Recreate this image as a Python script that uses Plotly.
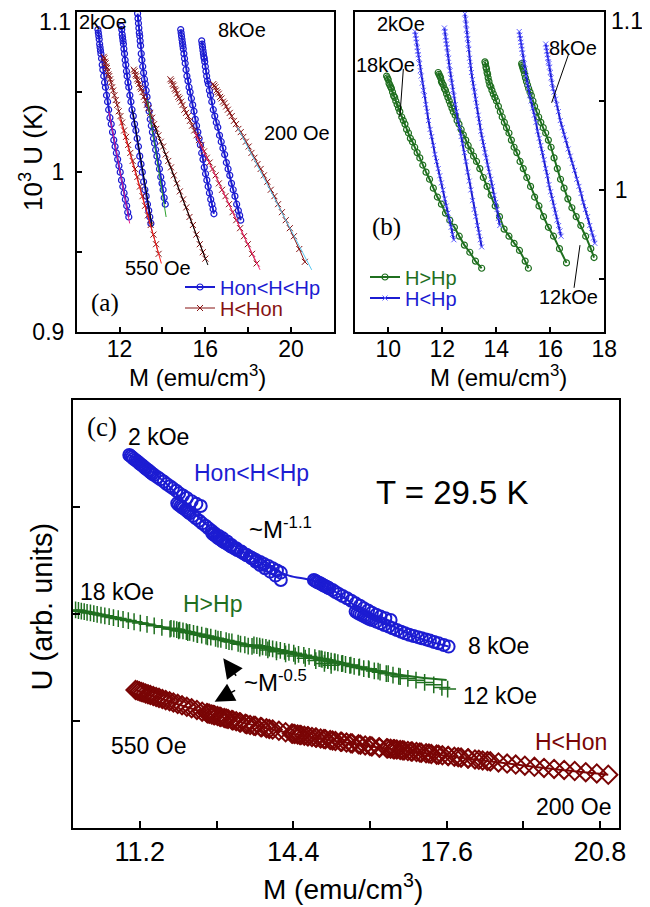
import plotly.graph_objects as go

# ---------------- DATA ----------------
# Panel (a)/(b): Hon<H<Hp (same curves appear in a as circles, in b as H<Hp crosses)
hon1_M = [10.99, 11.01, 11.03, 11.05, 11.07, 11.09, 11.11, 11.13, 11.16, 11.19, 11.22, 11.26, 11.30, 11.34, 11.39, 11.44, 11.49, 11.55, 11.61, 11.67, 11.73, 11.79, 11.85, 11.91, 11.97, 12.03, 12.09, 12.15, 12.21, 12.27, 12.33, 12.38, 12.43]
hon1_U = [1.089, 1.087, 1.085, 1.083, 1.080, 1.078, 1.076, 1.074, 1.071, 1.067, 1.064, 1.060, 1.056, 1.053, 1.048, 1.044, 1.039, 1.034, 1.030, 1.025, 1.020, 1.016, 1.012, 1.008, 1.004, 1.000, 0.995, 0.991, 0.987, 0.983, 0.979, 0.975, 0.972]
hon2_M = [12.08, 12.10, 12.12, 12.14, 12.16, 12.18, 12.20, 12.23, 12.26, 12.29, 12.32, 12.35, 12.39, 12.43, 12.48, 12.53, 12.58, 12.64, 12.70, 12.76, 12.82, 12.88, 12.94, 13.00, 13.06, 13.12, 13.18, 13.24, 13.30, 13.36, 13.41, 13.46]
hon2_U = [1.091, 1.089, 1.086, 1.084, 1.082, 1.080, 1.077, 1.074, 1.070, 1.067, 1.063, 1.060, 1.056, 1.053, 1.048, 1.044, 1.039, 1.035, 1.030, 1.026, 1.021, 1.016, 1.010, 1.005, 1.000, 0.994, 0.989, 0.985, 0.980, 0.976, 0.972, 0.968]
hon3_M = [12.84, 12.86, 12.88, 12.90, 12.92, 12.94, 12.96, 12.98, 13.01, 13.04, 13.08, 13.12, 13.16, 13.20, 13.24, 13.28, 13.33, 13.38, 13.43, 13.48, 13.53, 13.58, 13.63, 13.68, 13.74, 13.80, 13.86, 13.92, 13.98, 14.03, 14.08, 14.13]
hon3_U = [1.099, 1.096, 1.093, 1.090, 1.087, 1.085, 1.082, 1.079, 1.074, 1.070, 1.066, 1.062, 1.058, 1.055, 1.051, 1.047, 1.042, 1.038, 1.033, 1.029, 1.025, 1.021, 1.018, 1.014, 1.010, 1.006, 1.002, 0.997, 0.993, 0.989, 0.984, 0.980]
hon4_M = [14.85, 14.87, 14.89, 14.91, 14.93, 14.95, 14.97, 15.00, 15.03, 15.06, 15.10, 15.14, 15.19, 15.24, 15.29, 15.35, 15.41, 15.47, 15.53, 15.59, 15.65, 15.71, 15.77, 15.83, 15.89, 15.95, 16.01, 16.07, 16.13, 16.19, 16.25, 16.31, 16.36, 16.40]
hon4_U = [1.089, 1.087, 1.085, 1.083, 1.081, 1.079, 1.077, 1.074, 1.071, 1.068, 1.064, 1.060, 1.057, 1.053, 1.050, 1.046, 1.042, 1.038, 1.033, 1.029, 1.025, 1.021, 1.017, 1.012, 1.008, 1.003, 0.999, 0.995, 0.991, 0.987, 0.983, 0.980, 0.977, 0.974]
hon5_M = [15.83, 15.85, 15.87, 15.89, 15.91, 15.93, 15.95, 15.97, 16.00, 16.03, 16.06, 16.10, 16.14, 16.19, 16.24, 16.30, 16.37, 16.44, 16.51, 16.58, 16.66, 16.74, 16.82, 16.90, 16.98, 17.06, 17.14, 17.22, 17.30, 17.38, 17.46, 17.54, 17.60, 17.65]
hon5_U = [1.082, 1.080, 1.078, 1.076, 1.074, 1.072, 1.071, 1.069, 1.066, 1.063, 1.060, 1.057, 1.055, 1.051, 1.048, 1.044, 1.039, 1.035, 1.031, 1.028, 1.023, 1.019, 1.015, 1.011, 1.006, 1.002, 0.998, 0.993, 0.989, 0.985, 0.980, 0.976, 0.973, 0.970]

# Panel (a): H<Hon
low1_M = [11.26, 11.29, 11.32, 11.35, 11.38, 11.41, 11.44, 11.48, 11.52, 11.56, 11.60, 11.65, 11.70, 11.76, 11.82, 11.89, 11.96, 12.04, 12.12, 12.21, 12.30, 12.40, 12.50, 12.61, 12.72, 12.83, 12.95, 13.07, 13.19, 13.32, 13.45, 13.58, 13.70, 13.82]
low1_U = [1.072, 1.071, 1.069, 1.068, 1.066, 1.065, 1.063, 1.061, 1.060, 1.058, 1.056, 1.053, 1.051, 1.048, 1.045, 1.042, 1.038, 1.035, 1.031, 1.026, 1.022, 1.017, 1.012, 1.007, 1.002, 0.997, 0.991, 0.985, 0.979, 0.973, 0.967, 0.961, 0.955, 0.949]
low2_M = [12.66, 12.70, 12.74, 12.78, 12.82, 12.86, 12.91, 12.96, 13.01, 13.07, 13.13, 13.20, 13.27, 13.35, 13.43, 13.52, 13.61, 13.71, 13.81, 13.92, 14.03, 14.15, 14.27, 14.40, 14.53, 14.67, 14.81, 14.96, 15.11, 15.26, 15.42, 15.58, 15.74, 15.88, 16.00]
low2_U = [1.064, 1.063, 1.061, 1.060, 1.058, 1.057, 1.055, 1.053, 1.052, 1.050, 1.047, 1.045, 1.042, 1.040, 1.037, 1.034, 1.030, 1.027, 1.023, 1.019, 1.016, 1.011, 1.007, 1.003, 0.998, 0.993, 0.988, 0.983, 0.978, 0.972, 0.967, 0.961, 0.955, 0.950, 0.946]
low3_M = [14.37, 14.42, 14.47, 14.52, 14.57, 14.62, 14.68, 14.74, 14.80, 14.87, 14.94, 15.02, 15.10, 15.19, 15.28, 15.38, 15.48, 15.59, 15.70, 15.82, 15.94, 16.07, 16.20, 16.34, 16.48, 16.63, 16.78, 16.94, 17.10, 17.27, 17.44, 17.62, 17.80, 17.98, 18.18, 18.39]
low3_U = [1.058, 1.057, 1.055, 1.054, 1.052, 1.051, 1.049, 1.047, 1.046, 1.044, 1.042, 1.039, 1.037, 1.035, 1.032, 1.029, 1.026, 1.023, 1.020, 1.017, 1.013, 1.009, 1.006, 1.002, 0.998, 0.993, 0.989, 0.985, 0.980, 0.975, 0.970, 0.965, 0.960, 0.955, 0.949, 0.943]
low4_M = [16.37, 16.42, 16.47, 16.52, 16.57, 16.63, 16.69, 16.75, 16.82, 16.89, 16.97, 17.05, 17.14, 17.23, 17.33, 17.43, 17.54, 17.65, 17.77, 17.89, 18.02, 18.15, 18.29, 18.43, 18.58, 18.73, 18.89, 19.05, 19.22, 19.39, 19.57, 19.75, 19.94, 20.13, 20.38, 20.64]
low4_U = [1.055, 1.054, 1.053, 1.051, 1.050, 1.049, 1.047, 1.046, 1.044, 1.043, 1.041, 1.039, 1.037, 1.035, 1.032, 1.030, 1.027, 1.025, 1.022, 1.019, 1.016, 1.012, 1.009, 1.005, 1.002, 0.998, 0.994, 0.989, 0.985, 0.980, 0.975, 0.970, 0.965, 0.960, 0.952, 0.944]

# Panel (a): thin fit lines (start/end)
fitA_M = [[11.50, 12.47], [12.60, 13.52], [13.30, 14.17], [12.00, 13.95], [13.60, 16.12], [15.50, 18.55], [17.50, 20.96]]
fitA_U = [[1.038, 0.968], [1.039, 0.966], [1.045, 0.972], [1.034, 0.943], [1.030, 0.942], [1.025, 0.939], [1.028, 0.939]]
fitA_colors = ["#e8208c", "#000000", "#2ca02c", "#ff2020", "#000000", "#ff2a7a", "#5bc8f0"]

# Panel (b): H>Hp
hp1_M = [9.94, 9.97, 10.00, 10.03, 10.06, 10.09, 10.12, 10.16, 10.20, 10.24, 10.28, 10.33, 10.38, 10.43, 10.50, 10.56, 10.62, 10.68, 10.75, 10.82, 10.90, 10.98, 11.07, 11.17, 11.28, 11.40, 11.53, 11.67, 11.82, 11.97, 12.12, 12.28, 12.45, 12.63, 12.82, 13.02, 13.23, 13.46]
hp1_U = [1.064, 1.063, 1.062, 1.060, 1.059, 1.058, 1.057, 1.055, 1.053, 1.052, 1.050, 1.048, 1.046, 1.044, 1.041, 1.039, 1.037, 1.034, 1.032, 1.029, 1.027, 1.024, 1.021, 1.018, 1.014, 1.010, 1.006, 1.001, 0.996, 0.992, 0.987, 0.983, 0.979, 0.974, 0.969, 0.965, 0.960, 0.956]
hp2_M = [11.85, 11.88, 11.91, 11.94, 11.97, 12.00, 12.04, 12.08, 12.12, 12.16, 12.21, 12.26, 12.31, 12.36, 12.41, 12.48, 12.55, 12.62, 12.70, 12.78, 12.87, 12.96, 13.06, 13.16, 13.27, 13.39, 13.52, 13.66, 13.81, 13.96, 14.12, 14.29, 14.47, 14.66, 14.86, 15.07, 15.19]
hp2_U = [1.066, 1.065, 1.064, 1.063, 1.061, 1.060, 1.059, 1.057, 1.056, 1.054, 1.052, 1.050, 1.048, 1.046, 1.044, 1.042, 1.039, 1.037, 1.034, 1.031, 1.028, 1.025, 1.022, 1.019, 1.016, 1.012, 1.007, 1.002, 0.997, 0.991, 0.985, 0.978, 0.974, 0.970, 0.966, 0.960, 0.956]
hp3_M = [13.58, 13.60, 13.62, 13.64, 13.66, 13.68, 13.70, 13.73, 13.76, 13.80, 13.84, 13.89, 13.95, 14.01, 14.08, 14.15, 14.22, 14.30, 14.38, 14.47, 14.56, 14.66, 14.76, 14.88, 15.00, 15.13, 15.27, 15.42, 15.58, 15.75, 15.93, 16.12, 16.34, 16.60]
hp3_U = [1.072, 1.071, 1.069, 1.068, 1.066, 1.065, 1.063, 1.061, 1.059, 1.058, 1.056, 1.054, 1.052, 1.050, 1.047, 1.044, 1.041, 1.038, 1.035, 1.032, 1.028, 1.024, 1.021, 1.016, 1.012, 1.007, 1.002, 0.996, 0.991, 0.985, 0.979, 0.974, 0.967, 0.959]
hp4_M = [14.94, 14.96, 14.98, 15.00, 15.02, 15.05, 15.08, 15.12, 15.16, 15.20, 15.25, 15.30, 15.36, 15.42, 15.49, 15.57, 15.65, 15.74, 15.83, 15.93, 16.03, 16.14, 16.26, 16.38, 16.51, 16.65, 16.80, 16.96, 17.13, 17.31, 17.50, 17.62]
hp4_U = [1.071, 1.070, 1.069, 1.068, 1.067, 1.065, 1.063, 1.061, 1.059, 1.057, 1.055, 1.053, 1.050, 1.047, 1.044, 1.041, 1.038, 1.035, 1.032, 1.028, 1.024, 1.018, 1.012, 1.006, 1.001, 0.995, 0.990, 0.985, 0.980, 0.974, 0.967, 0.962]

# Panel (c): scaled U (arb. units)
cb1_M = [10.98, 11.01, 11.04, 11.07, 11.11, 11.14, 11.17, 11.20, 11.24, 11.27, 11.30, 11.33, 11.37, 11.40, 11.43, 11.46, 11.50, 11.57, 11.63, 11.70, 11.76, 11.83, 11.89, 11.96, 12.02, 12.10, 12.18, 12.28, 12.38, 12.47]
cb1_U = [3.486, 3.476, 3.465, 3.452, 3.440, 3.429, 3.418, 3.405, 3.393, 3.382, 3.370, 3.358, 3.346, 3.335, 3.323, 3.311, 3.300, 3.278, 3.259, 3.238, 3.216, 3.195, 3.175, 3.152, 3.129, 3.108, 3.085, 3.055, 3.030, 3.010]
cb2_M = [11.98, 12.01, 12.05, 12.08, 12.11, 12.15, 12.18, 12.21, 12.24, 12.31, 12.37, 12.44, 12.50, 12.57, 12.63, 12.70, 12.76, 12.85, 12.93, 13.02, 13.11, 13.21, 13.32, 13.42, 13.53, 13.62, 13.71, 13.81, 13.92, 14.03, 14.14]
cb2_U = [3.035, 3.022, 3.010, 2.999, 2.988, 2.976, 2.965, 2.953, 2.942, 2.918, 2.895, 2.872, 2.848, 2.825, 2.802, 2.778, 2.755, 2.730, 2.708, 2.678, 2.646, 2.615, 2.584, 2.553, 2.522, 2.490, 2.459, 2.428, 2.397, 2.360, 2.319]
cb3_M = [12.71, 12.74, 12.78, 12.81, 12.84, 12.88, 12.91, 12.94, 12.97, 13.04, 13.10, 13.17, 13.23, 13.30, 13.36, 13.43, 13.49, 13.56, 13.62, 13.71, 13.79, 13.88, 13.97, 14.06, 14.14]
cb3_U = [2.755, 2.743, 2.731, 2.720, 2.708, 2.698, 2.688, 2.678, 2.668, 2.650, 2.631, 2.615, 2.599, 2.584, 2.568, 2.552, 2.537, 2.521, 2.506, 2.488, 2.469, 2.449, 2.428, 2.408, 2.388]
cb4_M = [14.83, 14.86, 14.89, 14.92, 14.96, 14.99, 15.02, 15.05, 15.09, 15.12, 15.15, 15.22, 15.28, 15.35, 15.43, 15.52, 15.61, 15.70, 15.79, 15.87, 15.96, 16.04, 16.13, 16.22, 16.32, 16.43]
cb4_U = [2.319, 2.311, 2.303, 2.296, 2.288, 2.280, 2.272, 2.265, 2.257, 2.249, 2.241, 2.226, 2.207, 2.189, 2.169, 2.148, 2.125, 2.101, 2.078, 2.055, 2.034, 2.014, 1.995, 1.977, 1.962, 1.946]
cb5_M = [15.70, 15.74, 15.78, 15.82, 15.87, 15.91, 15.95, 15.99, 16.04, 16.13, 16.22, 16.30, 16.39, 16.47, 16.56, 16.65, 16.73, 16.82, 16.91, 17.00, 17.08, 17.17, 17.25, 17.34, 17.43, 17.54, 17.64]
cb5_U = [2.024, 2.013, 2.003, 1.993, 1.983, 1.973, 1.964, 1.955, 1.946, 1.930, 1.915, 1.899, 1.884, 1.868, 1.852, 1.836, 1.821, 1.808, 1.796, 1.785, 1.775, 1.764, 1.753, 1.740, 1.728, 1.712, 1.697]
cb_fit_M = [10.98, 11.76, 12.50, 13.20, 13.80, 14.31, 14.83, 15.35, 15.87, 16.39, 16.91, 17.64]
cb_fit_U = [3.486, 3.216, 2.870, 2.630, 2.460, 2.360, 2.310, 2.190, 2.020, 1.910, 1.795, 1.697]

cg1_M = [9.86, 9.92, 9.98, 10.04, 10.10, 10.17, 10.24, 10.31, 10.39, 10.47, 10.56, 10.65, 10.75, 10.85, 10.96, 11.08, 11.21, 11.35, 11.50, 11.66, 11.83, 12.01, 12.20, 12.40, 12.61, 12.83, 13.06, 13.30, 13.46]
cg1_U = [2.039, 2.034, 2.028, 2.023, 2.017, 2.011, 2.005, 1.998, 1.991, 1.984, 1.976, 1.968, 1.959, 1.950, 1.940, 1.929, 1.917, 1.905, 1.891, 1.877, 1.861, 1.845, 1.828, 1.810, 1.789, 1.767, 1.744, 1.720, 1.702]
cg2_M = [11.85, 11.91, 11.97, 12.03, 12.10, 12.17, 12.24, 12.32, 12.40, 12.49, 12.58, 12.68, 12.78, 12.89, 13.00, 13.12, 13.25, 13.39, 13.54, 13.70, 13.87, 14.05, 14.24, 14.44, 14.65, 14.87, 15.05, 15.19]
cg2_U = [1.868, 1.862, 1.856, 1.850, 1.843, 1.836, 1.829, 1.821, 1.813, 1.804, 1.795, 1.785, 1.775, 1.764, 1.753, 1.741, 1.728, 1.714, 1.699, 1.683, 1.666, 1.648, 1.629, 1.609, 1.588, 1.566, 1.540, 1.522]
cg3_M = [13.58, 13.64, 13.70, 13.76, 13.83, 13.90, 13.97, 14.05, 14.13, 14.22, 14.31, 14.41, 14.51, 14.62, 14.73, 14.85, 14.98, 15.12, 15.27, 15.43, 15.60, 15.78, 15.97, 16.17, 16.38, 16.60]
cg3_U = [1.712, 1.706, 1.701, 1.695, 1.689, 1.682, 1.676, 1.668, 1.661, 1.652, 1.644, 1.635, 1.625, 1.615, 1.605, 1.594, 1.582, 1.569, 1.555, 1.540, 1.524, 1.507, 1.490, 1.468, 1.445, 1.420]
cg4_M = [14.94, 15.00, 15.06, 15.12, 15.19, 15.26, 15.33, 15.41, 15.49, 15.58, 15.67, 15.77, 15.87, 15.98, 16.09, 16.21, 16.34, 16.48, 16.63, 16.79, 16.96, 17.14, 17.33, 17.50, 17.62]
cg4_U = [1.585, 1.579, 1.573, 1.567, 1.560, 1.553, 1.546, 1.538, 1.530, 1.521, 1.512, 1.502, 1.492, 1.481, 1.470, 1.458, 1.445, 1.431, 1.416, 1.400, 1.383, 1.362, 1.340, 1.316, 1.300]
cg_fit_M = [9.86, 11.0, 12.0, 13.0, 14.0, 15.0, 16.0, 17.0, 17.6]
cg_fit_U = [2.040, 1.940, 1.850, 1.760, 1.660, 1.575, 1.480, 1.410, 1.386]

cr1_M = [11.11, 11.15, 11.19, 11.23, 11.27, 11.32, 11.37, 11.42, 11.48, 11.54, 11.60, 11.67, 11.74, 11.82, 11.90, 11.99, 12.08, 12.18, 12.28, 12.39, 12.50, 12.62, 12.74, 12.87, 13.00, 13.14, 13.28, 13.43, 13.58, 13.74, 13.90]
cr1_U = [1.292, 1.286, 1.280, 1.274, 1.268, 1.260, 1.253, 1.245, 1.236, 1.227, 1.218, 1.208, 1.197, 1.186, 1.175, 1.162, 1.149, 1.135, 1.121, 1.105, 1.089, 1.073, 1.058, 1.042, 1.026, 1.008, 0.991, 0.972, 0.958, 0.943, 0.928]
cr2_M = [12.60, 12.65, 12.70, 12.76, 12.82, 12.89, 12.96, 13.04, 13.12, 13.21, 13.30, 13.40, 13.50, 13.61, 13.72, 13.84, 13.97, 14.10, 14.24, 14.39, 14.54, 14.70, 14.87, 15.04, 15.22, 15.41, 15.60, 15.80, 16.00, 16.20]
cr2_U = [1.076, 1.069, 1.063, 1.056, 1.048, 1.040, 1.031, 1.021, 1.011, 1.000, 0.989, 0.977, 0.965, 0.955, 0.945, 0.934, 0.922, 0.910, 0.897, 0.884, 0.872, 0.860, 0.847, 0.834, 0.820, 0.808, 0.795, 0.781, 0.768, 0.752]
cr3_M = [14.37, 14.43, 14.49, 14.56, 14.63, 14.71, 14.79, 14.88, 14.97, 15.07, 15.17, 15.28, 15.39, 15.51, 15.63, 15.76, 15.90, 16.04, 16.19, 16.35, 16.51, 16.68, 16.86, 17.04, 17.23, 17.43, 17.63, 17.84, 18.05, 18.27, 18.45]
cr3_U = [0.885, 0.881, 0.876, 0.871, 0.865, 0.859, 0.853, 0.846, 0.839, 0.831, 0.824, 0.816, 0.809, 0.801, 0.793, 0.784, 0.774, 0.765, 0.756, 0.747, 0.738, 0.728, 0.718, 0.708, 0.698, 0.687, 0.676, 0.664, 0.653, 0.640, 0.628]
cr4_M = [16.37, 16.43, 16.49, 16.56, 16.63, 16.71, 16.79, 16.88, 16.97, 17.07, 17.17, 17.28, 17.39, 17.51, 17.63, 17.76, 17.90, 18.04, 18.19, 18.35, 18.51, 18.68, 18.86, 19.04, 19.23, 19.43, 19.63, 19.84, 20.05, 20.27, 20.50, 20.73, 20.97]
cr4_U = [0.746, 0.743, 0.739, 0.735, 0.731, 0.727, 0.722, 0.717, 0.712, 0.706, 0.700, 0.694, 0.688, 0.682, 0.675, 0.668, 0.660, 0.652, 0.643, 0.634, 0.625, 0.615, 0.605, 0.595, 0.585, 0.574, 0.564, 0.554, 0.545, 0.535, 0.524, 0.512, 0.500]
cr_fit_M = [11.11, 12.58, 14.31, 16.04, 17.77, 19.50, 20.97]
cr_fit_U = [1.292, 1.078, 0.890, 0.765, 0.667, 0.570, 0.500]

# Tick values / labels
xa_ticks = [12, 16, 20]
xa_minor = [14, 18]
ya_ticks = [0.9, 1.0]
ya_text = ["0.9", "1"]
ya_minor = [0.95, 1.05]
ya_top_label = "1.1"
xb_ticks = [10, 12, 14, 16, 18]
yb_ticks = [1.0]
yb_text = ["1"]
yb_minor = [0.95, 1.05]
yb_top_label = "1.1"
xc_ticks = [11.2, 14.4, 17.6, 20.8]
xc_text = ["11.2", "14.4", "17.6", "20.8"]
xc_minor = [12.8, 16.0, 19.2]
yc_ticks = [1, 2, 3]

hon_M = [hon1_M, hon2_M, hon3_M, hon4_M, hon5_M]
hon_U = [hon1_U, hon2_U, hon3_U, hon4_U, hon5_U]
low_M = [low1_M, low2_M, low3_M, low4_M]
low_U = [low1_U, low2_U, low3_U, low4_U]
hp_M = [hp1_M, hp2_M, hp3_M, hp4_M]
hp_U = [hp1_U, hp2_U, hp3_U, hp4_U]
cb_M = [cb1_M, cb2_M, cb3_M, cb4_M, cb5_M]
cb_U = [cb1_U, cb2_U, cb3_U, cb4_U, cb5_U]
cg_M = [cg1_M, cg2_M, cg3_M, cg4_M]
cg_U = [cg1_U, cg2_U, cg3_U, cg4_U]
cr_M = [cr1_M, cr2_M, cr3_M, cr4_M]
cr_U = [cr1_U, cr2_U, cr3_U, cr4_U]

# ---------------- STYLE ----------------
FONT = "Liberation Sans, Arial, Helvetica, sans-serif"
SERIF = "Liberation Serif, Times New Roman, serif"
BLUE = "#1c1cd2"
DRED = "#861212"
CRED = "#7a0505"
GREEN = "#1f6f1f"
# the page body has an 8px margin; the figure starts at (8, 8) in the window
OFF = 8
W, H = 642, 899

fig = go.Figure()

# Panel (a)
for i, (m, u) in enumerate(zip(hon_M, hon_U)):
    fig.add_trace(go.Scatter(x=m, y=u, xaxis="x", yaxis="y", mode="lines+markers",
                             name="Hon&lt;H&lt;Hp", legend="legend", showlegend=(i == 0),
                             line=dict(color=BLUE, width=2),
                             marker=dict(symbol="circle-open", size=6, color=BLUE,
                                         line=dict(color=BLUE, width=1.2))))
for i, (m, u) in enumerate(zip(low_M, low_U)):
    fig.add_trace(go.Scatter(x=m, y=u, xaxis="x", yaxis="y", mode="lines+markers",
                             name="H&lt;Hon", legend="legend2", showlegend=(i == 0),
                             line=dict(color=DRED, width=1),
                             marker=dict(symbol="x-thin-open", size=6, color=DRED,
                                         line=dict(color=DRED, width=1))))
for m, u, c in zip(fitA_M, fitA_U, fitA_colors):
    fig.add_trace(go.Scatter(x=m, y=u, xaxis="x", yaxis="y", mode="lines",
                             line=dict(color=c, width=1), showlegend=False, hoverinfo="skip"))

# Panel (b)
for i, (m, u) in enumerate(zip(hp_M, hp_U)):
    fig.add_trace(go.Scatter(x=m, y=u, xaxis="x2", yaxis="y2", mode="lines+markers",
                             name="H>Hp", legend="legend3", showlegend=(i == 0),
                             line=dict(color=GREEN, width=2),
                             marker=dict(symbol="circle-open", size=6, color=GREEN,
                                         line=dict(color=GREEN, width=1.2))))
for i, (m, u) in enumerate(zip(hon_M, hon_U)):
    fig.add_trace(go.Scatter(x=m, y=u, xaxis="x2", yaxis="y2", mode="lines+markers",
                             name="H&lt;Hp", legend="legend4", showlegend=(i == 0),
                             line=dict(color=BLUE, width=2),
                             marker=dict(symbol="x-thin-open", size=5, color="#5a5aff",
                                         line=dict(color="#5a5aff", width=1))))

# Panel (c)
for m, u in zip(cb_M, cb_U):
    fig.add_trace(go.Scatter(x=m, y=u, xaxis="x3", yaxis="y3", mode="markers", showlegend=False,
                             marker=dict(symbol="circle-open", size=12, color=BLUE,
                                         line=dict(color=BLUE, width=2))))
fig.add_trace(go.Scatter(x=cb_fit_M, y=cb_fit_U, xaxis="x3", yaxis="y3", mode="lines",
                         line=dict(color=BLUE, width=2, shape="spline"), showlegend=False))
for m, u in zip(cg_M, cg_U):
    fig.add_trace(go.Scatter(x=m, y=u, xaxis="x3", yaxis="y3", mode="markers", showlegend=False,
                             marker=dict(symbol="cross-thin-open", size=12, color=GREEN,
                                         line=dict(color=GREEN, width=1.5))))
fig.add_trace(go.Scatter(x=cg_fit_M, y=cg_fit_U, xaxis="x3", yaxis="y3", mode="lines",
                         line=dict(color=GREEN, width=2, shape="spline"), showlegend=False))
for m, u in zip(cr_M, cr_U):
    fig.add_trace(go.Scatter(x=m, y=u, xaxis="x3", yaxis="y3", mode="markers", showlegend=False,
                             marker=dict(symbol="diamond-open", size=14, color=CRED,
                                         line=dict(color=CRED, width=2))))
fig.add_trace(go.Scatter(x=cr_fit_M, y=cr_fit_U, xaxis="x3", yaxis="y3", mode="lines",
                         line=dict(color=CRED, width=2, shape="spline"), showlegend=False))

# ---------------- AXES ----------------
common = dict(showline=True, linecolor="black", linewidth=1.5, mirror=True,
              ticks="inside", tickcolor="black", tickwidth=1.5, automargin=False,
              showgrid=False, zeroline=False, tickmode="array")
fab = dict(family=FONT, size=23, color="black")
fc = dict(family=FONT, size=27, color="black")


def minor(vals, ln):
    return dict(tickmode="array", tickvals=vals, ticks="inside", ticklen=ln,
                tickwidth=1.5, tickcolor="black", showgrid=False)


def px(xp):
    return (xp - OFF) / W


def py(yp):
    return 1 - (yp - OFF) / H


fig.update_layout(
    xaxis=dict(domain=[px(76.7), px(334)], range=[10, 22], anchor="y",
               tickvals=xa_ticks, ticklen=6, tickfont=fab, minor=minor(xa_minor, 6),
               ticklabelstandoff=-5, **common),
    yaxis=dict(domain=[py(332.3), py(12)], range=[0.9, 1.1], anchor="x",
               tickvals=ya_ticks, ticktext=ya_text, ticklen=6, tickfont=fab,
               minor=minor(ya_minor, 6), ticklabelstandoff=6, **common),
    xaxis2=dict(domain=[px(355), px(604.3)], range=[8.77, 18], anchor="y2",
                tickvals=xb_ticks, ticklen=6, tickfont=fab, ticklabelstandoff=-5, **common),
    yaxis2=dict(domain=[py(332.3), py(12)], range=[0.92, 1.1], anchor="x2", side="right",
                tickvals=yb_ticks, ticktext=yb_text, ticklen=6, tickfont=fab,
                minor=minor(yb_minor, 6), ticklabelstandoff=4, **common),
    xaxis3=dict(domain=[px(72.7), px(619.3)], range=[9.8, 21.2], anchor="y3",
                tickvals=xc_ticks, ticktext=xc_text, ticklen=8, tickfont=fc,
                minor=minor(xc_minor, 8), ticklabelstandoff=-1, **common),
    yaxis3=dict(domain=[py(828.3), py(400)], range=[0, 4], anchor="x3",
                tickvals=yc_ticks, showticklabels=False, ticklen=8, **common),
)

leg_common = dict(xanchor="left", yanchor="middle", bgcolor="rgba(0,0,0,0)", borderwidth=0,
                  itemclick=False, itemdoubleclick=False)
fig.update_layout(
    legend=dict(x=px(180), y=py(287), font=dict(family=FONT, size=20, color=BLUE), **leg_common),
    legend2=dict(x=px(180), y=py(308), font=dict(family=FONT, size=20, color=DRED), **leg_common),
    legend3=dict(x=px(365), y=py(277), font=dict(family=FONT, size=20, color=GREEN), **leg_common),
    legend4=dict(x=px(365), y=py(298), font=dict(family=FONT, size=20, color=BLUE), **leg_common),
)

ann = []


def txt(text, x, y, xref, yref, size, color="black", family=FONT, **kw):
    d = dict(text=text, x=x, y=y, xref=xref, yref=yref, showarrow=False,
             font=dict(family=family, size=size, color=color), xanchor="center", yanchor="middle")
    d.update(kw)
    ann.append(d)


# top tick labels placed just below the top border (as in the original)
txt(ya_top_label, px(73), py(22), "paper", "paper", 23, xanchor="right")
txt(yb_top_label, px(609), py(21), "paper", "paper", 23, xanchor="left")

# Panel (a) labels
txt("2kOe", 11.23, 1.094, "x", "y", 20)
txt("8kOe", 17.71, 1.089, "x", "y", 20)
txt("200 Oe", 20.27, 1.0245, "x", "y", 20)
txt("550 Oe", 13.79, 0.940, "x", "y", 20)
txt("(a)", 11.32, 0.918, "x", "y", 25, family=SERIF)

# Panel (b) labels
txt("2kOe", 10.47, 1.093, "x2", "y2", 20)
txt("18kOe", 9.91, 1.070, "x2", "y2", 20)
txt("8kOe", 16.84, 1.080, "x2", "y2", 20)
txt("12kOe", 16.69, 0.940, "x2", "y2", 20)
txt("(b)", 9.95, 0.979, "x2", "y2", 25, family=SERIF)

# Panel (c) labels
txt("(c)", 10.42, 3.75, "x3", "y3", 27, family=SERIF)
txt("2 kOe", 11.59, 3.65, "x3", "y3", 23)
txt("Hon&lt;H&lt;Hp", 13.53, 3.316, "x3", "y3", 23, color=BLUE)
txt("T = 29.5 K", 17.72, 3.136, "x3", "y3", 33)
txt("~M<sup>-1.1</sup>", 14.14, 2.80, "x3", "y3", 24)
txt("18 kOe", 10.72, 2.207, "x3", "y3", 23)
txt("H>Hp", 12.71, 2.095, "x3", "y3", 23, color=GREEN)
txt("8 kOe", 18.69, 1.705, "x3", "y3", 23)
txt("~M<sup>-0.5</sup>", 14.03, 1.38, "x3", "y3", 24)
txt("12 kOe", 18.71, 1.236, "x3", "y3", 23)
txt("550 Oe", 11.39, 0.77, "x3", "y3", 23)
txt("H&lt;Hon", 20.2, 0.81, "x3", "y3", 23, color=CRED)
txt("200 Oe", 20.24, 0.203, "x3", "y3", 23)
ann.append(dict(text="", x=12.94, y=1.588, xref="x3", yref="y3", ax=14, ay=19,
                showarrow=True, arrowhead=2, arrowsize=2.6, arrowwidth=1.5, arrowcolor="black"))
ann.append(dict(text="", x=12.76, y=1.183, xref="x3", yref="y3", ax=22, ay=-12,
                showarrow=True, arrowhead=2, arrowsize=2.6, arrowwidth=1.5, arrowcolor="black"))

# Axis titles (paper)
txt("10<sup>3</sup> U (K)", px(31), py(158), "paper", "paper", 26, textangle=-90)
txt("M (emu/cm<sup>3</sup>)", px(198), py(376), "paper", "paper", 24)
txt("M (emu/cm<sup>3</sup>)", px(498), py(376), "paper", "paper", 24)
txt("U (arb. units)", px(41.5), py(607), "paper", "paper", 29, textangle=-90)
txt("M (emu/cm<sup>3</sup>)", px(343), py(887), "paper", "paper", 28)

# Pointer lines in panel (b)
ptr_lines = [(10.56, 1.068, 10.43, 1.041), (16.67, 1.076, 16.05, 1.049), (16.88, 0.945, 17.10, 0.969)]
shapes = [dict(type="line", xref="x2", yref="y2", x0=a, y0=b, x1=c, y1=d,
               line=dict(color="black", width=1)) for (a, b, c, d) in ptr_lines]

fig.update_layout(annotations=ann, shapes=shapes, width=W, height=H,
                  margin=dict(l=0, r=0, t=0, b=0, pad=0),
                  paper_bgcolor="white", plot_bgcolor="white",
                  font=dict(family=FONT, color="black"))

fig.write_html("out.html")
